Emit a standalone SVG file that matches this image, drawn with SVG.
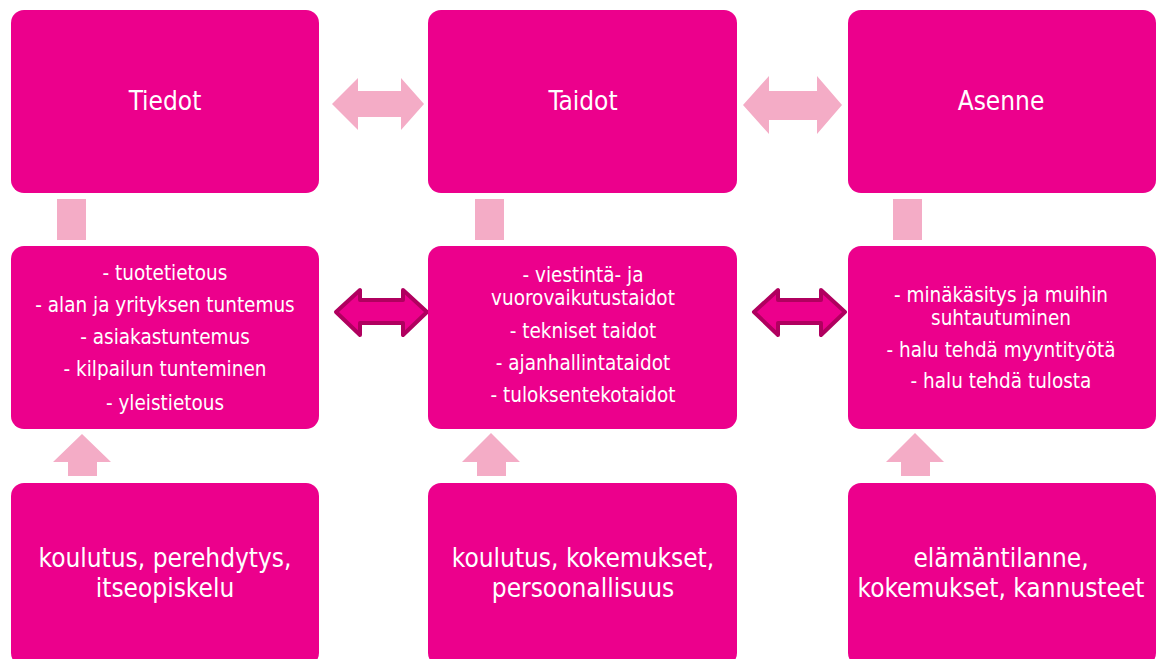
<svg xmlns="http://www.w3.org/2000/svg" width="1162" height="659" viewBox="0 0 1162 659">
<style>
.box{fill:#EC008C;}
.t{font-family:"DejaVu Sans Condensed","DejaVu Sans",sans-serif;fill:#FFFFFF;text-anchor:middle;dominant-baseline:central;}
.title{font-size:26px;}
.item{font-size:20.5px;}
.big{font-size:26px;}
.light{fill:#F4ACC6;}
.dark{fill:#EC008C;stroke:#B0005F;stroke-width:4;stroke-linejoin:round;}
</style>
<rect width="1162" height="659" fill="#FFFFFF"/>
<g id="connectors">
  <polygon class="light" points="332,104 358,78 358,91 401,91 401,78 424,104 401,130 401,117 358,117 358,130"/>
  <polygon class="light" points="743,105 769,76 769,91 817,91 817,76 842,105 817,134 817,120 769,120 769,134"/>
  <polygon class="dark" points="336,312 360,290 360,300 403,300 403,290 427,312 403,335 403,323 360,323 360,335"/>
  <polygon class="dark" points="754,312 778,290 778,300 821,300 821,290 845,312 821,335 821,323 778,323 778,335"/>
  <rect class="light" x="57" y="199" width="29" height="41"/>
  <rect class="light" x="475" y="199" width="29" height="41"/>
  <rect class="light" x="893" y="199" width="29" height="41"/>
  <polygon class="light" points="82,434 111,462 97,462 97,476 68,476 68,462 53,462"/>
  <polygon class="light" points="491,433 520,462 506,462 506,476 477,476 477,462 462,462"/>
  <polygon class="light" points="915,433 944,462 930,462 930,476 901,476 901,462 886,462"/>
</g>
<g id="tiedot"><rect class="box" x="11" y="10" width="308" height="183" rx="13"/><text class="t title" x="165" y="101">Tiedot</text></g>
<g id="taidot"><rect class="box" x="428" y="10" width="309" height="183" rx="13"/><text class="t title" x="583" y="101">Taidot</text></g>
<g id="asenne"><rect class="box" x="848" y="10" width="308" height="183" rx="13"/><text class="t title" x="1001" y="101">Asenne</text></g>
<g id="tiedot-list"><rect class="box" x="11" y="246" width="308" height="183" rx="13"/>
  <text class="t item" x="165" y="273">- tuotetietous</text>
  <text class="t item" x="165" y="305">- alan ja yrityksen tuntemus</text>
  <text class="t item" x="165" y="337">- asiakastuntemus</text>
  <text class="t item" x="165" y="369">- kilpailun tunteminen</text>
  <text class="t item" x="165" y="403">- yleistietous</text>
</g>
<g id="taidot-list"><rect class="box" x="428" y="246" width="309" height="183" rx="13"/>
  <text class="t item" x="583" y="275">- viestintä- ja</text>
  <text class="t item" x="583" y="298">vuorovaikutustaidot</text>
  <text class="t item" x="583" y="331">- tekniset taidot</text>
  <text class="t item" x="583" y="363">- ajanhallintataidot</text>
  <text class="t item" x="583" y="395">- tuloksentekotaidot</text>
</g>
<g id="asenne-list"><rect class="box" x="848" y="246" width="308" height="183" rx="13"/>
  <text class="t item" x="1001" y="295">- minäkäsitys ja muihin</text>
  <text class="t item" x="1001" y="318">suhtautuminen</text>
  <text class="t item" x="1001" y="350">- halu tehdä myyntityötä</text>
  <text class="t item" x="1001" y="381">- halu tehdä tulosta</text>
</g>
<g id="tiedot-source"><rect class="box" x="11" y="483" width="308" height="183" rx="13"/>
  <text class="t big" x="165" y="558">koulutus, perehdytys,</text>
  <text class="t big" x="165" y="588">itseopiskelu</text>
</g>
<g id="taidot-source"><rect class="box" x="428" y="483" width="309" height="183" rx="13"/>
  <text class="t big" x="583" y="558">koulutus, kokemukset,</text>
  <text class="t big" x="583" y="588">persoonallisuus</text>
</g>
<g id="asenne-source"><rect class="box" x="848" y="483" width="308" height="183" rx="13"/>
  <text class="t big" x="1001" y="558">elämäntilanne,</text>
  <text class="t big" x="1001" y="588">kokemukset, kannusteet</text>
</g>
</svg>
